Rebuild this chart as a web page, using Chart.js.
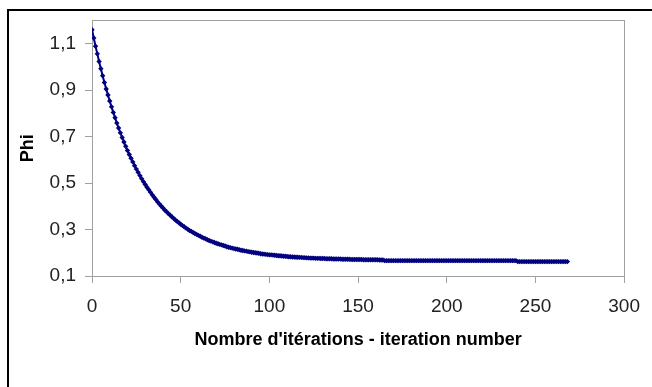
<!DOCTYPE html>
<html>
<head>
<meta charset="utf-8">
<script src="https://cdn.jsdelivr.net/npm/chart.js@4/dist/chart.umd.min.js"></script>
<style>
    body { margin: 0; width: 652px; height: 387px; overflow: hidden; background: #fff; position: relative; }
    #frame { position: absolute; left: 7px; top: 9px; width: 700px; height: 500px; border: 2px solid #000; }
    #chart { position: absolute; left: 0; top: 0; }
</style>
</head>
<body>
<div id="frame"></div>
<canvas id="chart" width="652" height="387"></canvas>
<script>
// valeurs de Phi, une par itération (0 à 268)
const phiValues = [
    1.160, 1.124, 1.089, 1.056, 1.023, 0.992, 0.962, 0.933, 0.905, 0.879,
    0.853, 0.828, 0.804, 0.781, 0.758, 0.737, 0.716, 0.696, 0.677, 0.658,
    0.640, 0.623, 0.607, 0.591, 0.575, 0.560, 0.546, 0.532, 0.519, 0.506,
    0.494, 0.482, 0.471, 0.460, 0.449, 0.439, 0.429, 0.419, 0.410, 0.401,
    0.393, 0.384, 0.377, 0.369, 0.362, 0.355, 0.348, 0.341, 0.335, 0.329,
    0.323, 0.317, 0.312, 0.306, 0.301, 0.296, 0.292, 0.287, 0.283, 0.279,
    0.275, 0.271, 0.267, 0.263, 0.260, 0.256, 0.253, 0.250, 0.247, 0.244,
    0.241, 0.239, 0.236, 0.234, 0.231, 0.229, 0.226, 0.224, 0.222, 0.220,
    0.218, 0.216, 0.215, 0.213, 0.211, 0.210, 0.208, 0.207, 0.205, 0.204,
    0.202, 0.201, 0.200, 0.199, 0.198, 0.196, 0.195, 0.194, 0.193, 0.192,
    0.191, 0.191, 0.190, 0.189, 0.188, 0.187, 0.187, 0.186, 0.185, 0.185,
    0.184, 0.183, 0.183, 0.182, 0.182, 0.181, 0.181, 0.180, 0.180, 0.179,
    0.179, 0.178, 0.178, 0.177, 0.177, 0.177, 0.176, 0.176, 0.176, 0.175,
    0.175, 0.175, 0.174, 0.174, 0.174, 0.174, 0.173, 0.173, 0.173, 0.173,
    0.173, 0.172, 0.172, 0.172, 0.172, 0.172, 0.171, 0.171, 0.171, 0.171,
    0.171, 0.171, 0.171, 0.170, 0.170, 0.170, 0.170, 0.170, 0.170, 0.170,
    0.170, 0.170, 0.169, 0.169, 0.169, 0.166, 0.166, 0.166, 0.166, 0.166,
    0.166, 0.166, 0.166, 0.166, 0.166, 0.166, 0.166, 0.166, 0.166, 0.166,
    0.166, 0.166, 0.166, 0.166, 0.166, 0.166, 0.166, 0.166, 0.166, 0.166,
    0.166, 0.166, 0.166, 0.166, 0.166, 0.166, 0.166, 0.166, 0.166, 0.166,
    0.166, 0.166, 0.166, 0.166, 0.166, 0.166, 0.166, 0.166, 0.166, 0.166,
    0.166, 0.166, 0.166, 0.166, 0.166, 0.166, 0.166, 0.166, 0.166, 0.166,
    0.166, 0.166, 0.166, 0.166, 0.166, 0.166, 0.166, 0.166, 0.166, 0.166,
    0.166, 0.166, 0.166, 0.166, 0.166, 0.166, 0.166, 0.166, 0.166, 0.166,
    0.162, 0.162, 0.162, 0.162, 0.162, 0.162, 0.162, 0.162, 0.162, 0.162,
    0.162, 0.162, 0.162, 0.162, 0.162, 0.162, 0.162, 0.162, 0.162, 0.162,
    0.162, 0.162, 0.162, 0.162, 0.162, 0.162, 0.162, 0.162, 0.162
];
const iterations = phiValues.map((_, i) => i); // numéro d'itération

const xTicks = [0, 50, 100, 150, 200, 250, 300];
const yTicks = [0.1, 0.3, 0.5, 0.7, 0.9, 1.1];

const axisGray = '#a0a0a0';
Chart.defaults.font.family = "'Liberation Sans', Arial, sans-serif";

// cadre gris autour de la zone de tracé
const plotFrame = {
    id: 'plotFrame',
    beforeDatasetsDraw(chart) {
        const { ctx, chartArea: a } = chart;
        ctx.save();
        ctx.strokeStyle = axisGray;
        ctx.lineWidth = 1;
        ctx.strokeRect(Math.round(a.left) + 0.5, Math.round(a.top) + 0.5, Math.round(a.width), Math.round(a.height));
        ctx.restore();
    }
};

new Chart(document.getElementById('chart'), {
    type: 'line',
    data: {
        datasets: [{
            data: iterations.map((it, i) => ({ x: it, y: phiValues[i] })),
            borderColor: '#000080',
            backgroundColor: '#000080',
            borderWidth: 2,
            pointStyle: 'rectRot',
            pointRadius: 2.7,
            pointBorderWidth: 0,
            tension: 0,
            fill: false
        }]
    },
    options: {
        responsive: false,
        animation: false,
        layout: { padding: { top: 20, right: 22, bottom: 0, left: 8 } },
        plugins: {
            legend: { display: false },
            tooltip: { enabled: false }
        },
        scales: {
            x: {
                type: 'linear',
                min: 0,
                max: 300,
                afterBuildTicks: s => { s.ticks = xTicks.map(v => ({ value: v })); },
                afterFit: s => { s.height = 111; },
                grid: { drawOnChartArea: false, color: axisGray, tickLength: 7 },
                border: { color: axisGray },
                ticks: { font: { size: 19 }, color: '#222', padding: 12, maxRotation: 0, autoSkip: false },
                title: {
                    display: true,
                    text: "Nombre d'itérations - iteration number",
                    color: '#000',
                    font: { size: 18, weight: 'bold' },
                    padding: { top: 0, bottom: 36 }
                }
            },
            y: {
                min: 0.1,
                max: 1.2,
                afterBuildTicks: s => { s.ticks = yTicks.map(v => ({ value: v })); },
                afterFit: s => { s.width = 84; },
                grid: { drawOnChartArea: false, color: axisGray, tickLength: 7 },
                border: { color: axisGray },
                ticks: {
                    font: { size: 19 },
                    color: '#222',
                    padding: 9,
                    callback: v => v.toFixed(1).replace('.', ',') // virgule décimale
                },
                title: {
                    display: true,
                    text: 'Phi',
                    color: '#000',
                    font: { size: 18, weight: 'bold' },
                    padding: { top: 9, bottom: 0 }
                }
            }
        }
    },
    plugins: [plotFrame]
});
</script>
</body>
</html>
